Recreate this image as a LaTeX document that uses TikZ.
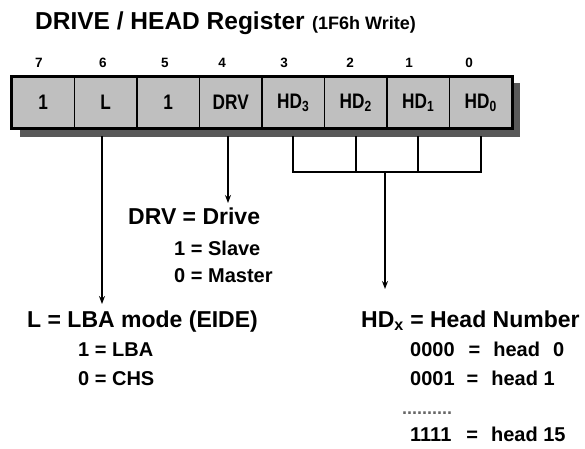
\documentclass[tikz,border=0pt]{standalone}
\usepackage{fontspec}
\setmainfont{Liberation Sans}
\newfontfamily\cellfont[FakeStretch=0.82]{Liberation Sans}
\usetikzlibrary{arrows.meta}
\tikzset{
  cellbox/.style={draw=black, line width=1.8pt, fill=black!25, minimum width=62.5pt, minimum height=51pt, inner sep=0pt, font=\cellfont\bfseries\fontsize{21}{21}\selectfont},
  bitnum/.style={inner sep=0pt, anchor=base, font=\bfseries\fontsize{13.5}{13.5}\selectfont},
  deftext/.style={inner sep=0pt, anchor=base west, font=\bfseries\fontsize{23}{23}\selectfont},
  subtext/.style={inner sep=0pt, anchor=base west, font=\bfseries\fontsize{20}{20}\selectfont},
  conn/.style={line width=1.8pt},
  arr/.style={line width=1.8pt, -{Stealth[length=8pt,width=6pt]}},
}
\begin{document}
\begin{tikzpicture}[x=1pt,y=-1pt]
\useasboundingbox (0,0) rectangle (585,448);
% title
\node[inner sep=0pt, anchor=base west, font=\bfseries\fontsize{24.5}{24.5}\selectfont] (title) at (35,29) {DRIVE / HEAD Register};
\node[inner sep=0pt, anchor=base west, font=\bfseries\fontsize{18}{18}\selectfont] (titleb) at (312,29) {(1F6h Write)};
% shadow
\fill[black!65] (20,83) rectangle (520,137);
\fill[white] (12,77) rectangle (512,128);
% cells
\node[cellbox] (c7) at (43.25,102.5) {1};
\node[cellbox] (c6) at (105.75,102.5) {L};
\node[cellbox] (c5) at (168.25,102.5) {1};
\node[cellbox] (c4) at (230.75,102.5) {DRV};
\node[cellbox] (c3) at (293.25,102.5) {HD\textsubscript{3}};
\node[cellbox] (c2) at (355.75,102.5) {HD\textsubscript{2}};
\node[cellbox] (c1) at (418.25,102.5) {HD\textsubscript{1}};
\node[cellbox] (c0) at (480.75,102.5) {HD\textsubscript{0}};
\draw[line width=2.8pt] (c7.north west) rectangle (c0.south east);
% bit numbers
\node[bitnum] (n7) at (39,67) {7};
\node[bitnum] (n6) at (103,67) {6};
\node[bitnum] (n5) at (165,67) {5};
\node[bitnum] (n4) at (222,67) {4};
\node[bitnum] (n3) at (284,67) {3};
\node[bitnum] (n2) at (350,67) {2};
\node[bitnum] (n1) at (409,67) {1};
\node[bitnum] (n0) at (469,67) {0};
% DRV text
\node[deftext] (drv) at (128,224) {DRV = Drive};
\node[subtext] (drv1) at (174,255) {1 = Slave};
\node[subtext] (drv0) at (174,282) {0 = Master};
% L text
\node[deftext] (lba) at (27,327) {L = LBA mode (EIDE)};
\node[subtext] (lba1) at (78,356) {1 = LBA};
\node[subtext] (lba0) at (78,385) {0 = CHS};
% HD text
\node[deftext] (hd) at (361,327) {HD\textsubscript{x} = Head Number};
\node[subtext] (hd0) at (410,356) {0000\hspace{14pt}=\hspace{13pt}head\hspace{13pt}0};
\node[subtext] (hd1) at (410,385) {0001\hspace{12pt}=\hspace{13pt}head 1};
\node[inner sep=0pt, anchor=base west, text=black!60, font=\bfseries\fontsize{18}{18}\selectfont] (dots) at (402,414) {..........};
\node[subtext] (hd15) at (410,441) {1111\hspace{15pt}=\hspace{13pt}head 15};
% connectors
\coordinate (Ls) at (102,136);
\coordinate (Lt) at (102,304);
\draw[arr] (Ls) -- (Lt);
\coordinate (Ds) at (228,136);
\coordinate (Dt) at (228,203);
\draw[arr] (Ds) -- (Dt);
\coordinate (b3) at (c3.center |- 0,172);
\coordinate (b0) at (c0.center |- 0,172);
\draw[conn] (c3.center |- 0,136) -- (b3) -- (b0) -- (c0.center |- 0,136);
\draw[conn] (c2.center |- 0,136) -- (c2.center |- 0,172);
\draw[conn] (c1.center |- 0,136) -- (c1.center |- 0,172);
\coordinate (Hs) at (385,172);
\coordinate (Ht) at (385,289);
\draw[arr] (Hs) -- (Ht);
\end{tikzpicture}
\end{document}
